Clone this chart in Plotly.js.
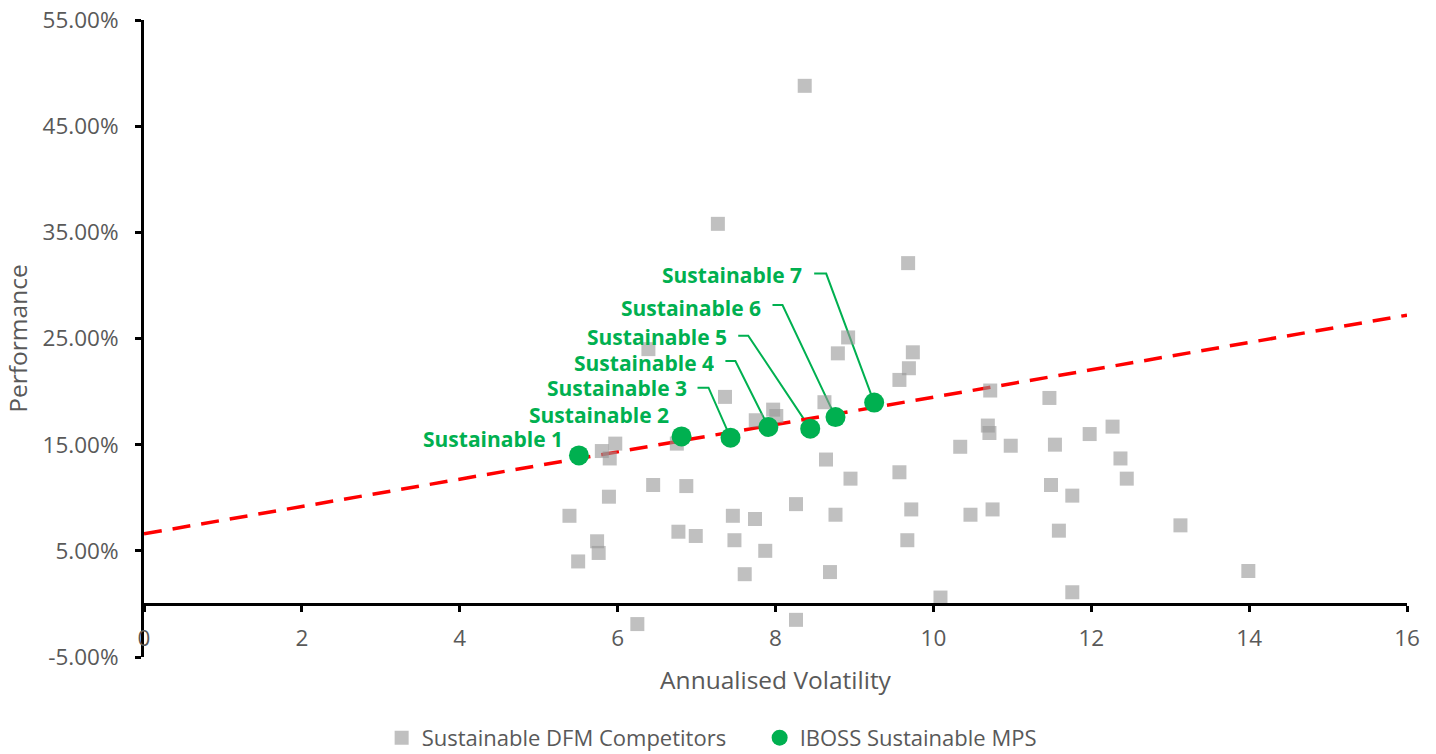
<!DOCTYPE html>
<html>
<head>
<meta charset="utf-8">
<script src="https://cdn.plot.ly/plotly-3.0.1.min.js"></script>
<style>
  html, body { margin: 0; padding: 0; background: #ffffff; }
  #chart { width: 1436px; height: 754px; }
</style>
</head>
<body>
<div id="chart"></div>
<script>
// ---- Data ----
const dfmName = 'Sustainable DFM Competitors';
const mpsName = 'IBOSS Sustainable MPS';

// Sustainable DFM Competitors: annualised volatility / performance (%)
const dfmVol = [8.37, 7.27, 9.68, 8.92, 6.39, 8.79, 9.74, 9.69, 9.57, 10.72,
                7.36, 11.47, 8.62, 7.97, 8.01, 7.75, 10.69, 12.27, 10.71, 11.98,
                5.97, 6.75, 11.54, 10.98, 10.34, 5.80, 5.90, 12.37, 8.64, 9.57,
                8.95, 12.45, 6.45, 11.49, 6.87, 11.76, 5.89, 8.26, 9.72, 10.75,
                8.76, 10.47, 7.46, 5.39, 7.74, 13.13, 11.59, 6.77, 6.99, 7.48,
                9.67, 5.74, 7.87, 5.76, 5.50, 13.99, 8.69, 7.61, 11.76, 10.09,
                8.26, 6.25];
const dfmPerf = [48.8, 35.8, 32.1, 25.1, 24.0, 23.6, 23.7, 22.2, 21.1, 20.1,
                 19.5, 19.4, 19.0, 18.3, 17.7, 17.3, 16.8, 16.7, 16.1, 16.0,
                 15.1, 15.1, 15.0, 14.9, 14.8, 14.4, 13.7, 13.7, 13.6, 12.4,
                 11.8, 11.8, 11.2, 11.2, 11.1, 10.2, 10.1, 9.4, 8.9, 8.9,
                 8.4, 8.4, 8.3, 8.3, 8.0, 7.4, 6.9, 6.8, 6.4, 6.0,
                 6.0, 5.9, 5.0, 4.8, 4.0, 3.1, 3.0, 2.8, 1.1, 0.6,
                 -1.5, -1.9];

// IBOSS Sustainable MPS
const mpsLabels = ['Sustainable 1', 'Sustainable 2', 'Sustainable 3', 'Sustainable 4',
                   'Sustainable 5', 'Sustainable 6', 'Sustainable 7'];
const mpsVol  = [5.51, 6.81, 7.43, 7.91, 8.44, 8.76, 9.25];
const mpsPerf = [13.99, 15.78, 15.66, 16.66, 16.51, 17.60, 18.96];

// Trend line end points
const trendVol  = [0, 16];
const trendPerf = [6.6, 27.2];

// Axis ticks
const xTicks = [0, 2, 4, 6, 8, 10, 12, 14, 16];
const yTicks = [-5, 5, 15, 25, 35, 45, 55];

// ---- Styling / layout ----
const pct = v => v.map(p => p / 100);
const FONT = 'Open Sans, Noto Sans, sans-serif';
const GREY_TXT = '#595959';
const GREEN = '#00B050';

// label placement (pixel offsets from each MPS point): text right edge / vertical centre
const labelShift = [[-15, 17], [-12, 22], [-43, 50], [-53, 65], [-82, 92], [-73, 110], [-71, 128]];
// leader lines: [elbow dx, elbow dy, end dx] in pixels, null = no leader
const leaders = [null, null, [-22, 50, -33], [-33, 66, -43], [-62, 93, -72], [-53, 112, -63], [-48, 129, -60]];

const traces = [
  {
    x: trendVol, y: pct(trendPerf), mode: 'lines', type: 'scatter',
    line: { color: '#FF0000', width: 3.5, dash: '18px,11px' },
    showlegend: false, hoverinfo: 'skip'
  },
  {
    x: dfmVol, y: pct(dfmPerf), mode: 'markers', type: 'scatter', name: dfmName,
    marker: { symbol: 'square', size: 14, color: 'rgba(150,150,150,0.6)', line: { width: 0 } }
  },
  {
    x: mpsVol, y: pct(mpsPerf), mode: 'markers', type: 'scatter', name: mpsName,
    text: mpsLabels,
    marker: { symbol: 'circle', size: 20, color: GREEN, line: { width: 0 } }
  }
];

const annotations = mpsLabels.map((t, i) => ({
  x: mpsVol[i], y: mpsPerf[i] / 100, xref: 'x', yref: 'y',
  text: t, showarrow: false, xanchor: 'right', yanchor: 'middle',
  height: 19, valign: 'middle', borderpad: 0,
  xshift: labelShift[i][0], yshift: labelShift[i][1],
  font: { family: FONT, size: 21, color: GREEN, weight: 700 }
}));

const shapes = [];
leaders.forEach((L, i) => {
  if (!L) return;
  shapes.push({
    type: 'path', xref: 'x', yref: 'y',
    xsizemode: 'pixel', ysizemode: 'pixel',
    xanchor: mpsVol[i], yanchor: mpsPerf[i] / 100,
    path: `M0,0 L${L[0]},${L[1]} L${L[2]},${L[1]}`,
    line: { color: GREEN, width: 2 }, layer: 'below'
  });
});

const layout = {
  width: 1436, height: 754,
  margin: { l: 144, r: 29, t: 20, b: 97, autoexpand: false },
  paper_bgcolor: '#ffffff', plot_bgcolor: '#ffffff',
  font: { family: FONT, size: 22, color: GREY_TXT },
  showlegend: true,
  legend: {
    orientation: 'h', xref: 'container', x: 0.529, xanchor: 'center',
    y: -0.127, yanchor: 'middle',
    entrywidth: 333, entrywidthmode: 'pixels',
    font: { family: FONT, size: 22, color: GREY_TXT }, itemclick: false
  },
  xaxis: {
    range: [0, 16], tickmode: 'array', tickvals: xTicks, ticktext: xTicks.map(String),
    showline: true, linecolor: '#000000', linewidth: 3,
    ticks: 'outside', ticklen: 6, tickwidth: 3, tickcolor: '#000000',
    showgrid: false, zeroline: false,
    anchor: 'free', position: 0.05 / 0.6,
    tickfont: { family: FONT, size: 22.5, color: GREY_TXT },
    ticklabelstandoff: 7,
    title: { text: 'Annualised Volatility', font: { family: FONT, size: 24.5, color: GREY_TXT }, standoff: 19 }
  },
  yaxis: {
    range: [-0.05, 0.55], tickmode: 'array', tickvals: pct(yTicks),
    ticktext: yTicks.map(v => v.toFixed(2) + '%'),
    showline: true, linecolor: '#000000', linewidth: 3,
    ticks: 'outside', ticklen: 6, tickwidth: 3, tickcolor: '#000000',
    showgrid: false, zeroline: false,
    tickfont: { family: FONT, size: 22.5, color: GREY_TXT },
    ticklabelstandoff: 12,
    title: { text: 'Performance', font: { family: FONT, size: 24.5, color: GREY_TXT }, standoff: 8 }
  },
  annotations: annotations,
  shapes: shapes
};

Plotly.newPlot('chart', traces, layout, { displayModeBar: false, staticPlot: true });
</script>
</body>
</html>
